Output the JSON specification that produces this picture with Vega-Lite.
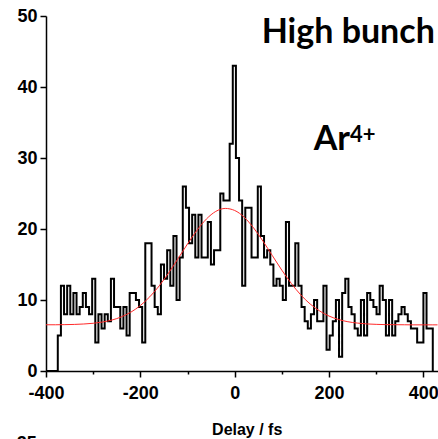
{
  "$schema": "https://vega.github.io/schema/vega-lite/v6.json",
  "width": 391.5,
  "height": 355,
  "autosize": {"type": "none"},
  "padding": {"left": 46, "top": 16, "right": 0.5, "bottom": 68},
  "background": "white",
  "config": {"view": {"stroke": null}},
  "datasets": {
    "hist": [
      {"delay": -400, "count": 0},
      {"delay": -375, "count": 5},
      {"delay": -368.375, "count": 12},
      {"delay": -361.75, "count": 8},
      {"delay": -355.125, "count": 12},
      {"delay": -348.5, "count": 8},
      {"delay": -341.875, "count": 11},
      {"delay": -335.25, "count": 8},
      {"delay": -328.625, "count": 9},
      {"delay": -322, "count": 11},
      {"delay": -315.375, "count": 9},
      {"delay": -308.75, "count": 8},
      {"delay": -302.125, "count": 13},
      {"delay": -295.5, "count": 4},
      {"delay": -288.875, "count": 8},
      {"delay": -282.25, "count": 6},
      {"delay": -275.625, "count": 8},
      {"delay": -269, "count": 7},
      {"delay": -262.375, "count": 13},
      {"delay": -255.75, "count": 9},
      {"delay": -249.125, "count": 9},
      {"delay": -242.5, "count": 6},
      {"delay": -235.875, "count": 9},
      {"delay": -229.25, "count": 5},
      {"delay": -222.625, "count": 11},
      {"delay": -216, "count": 11},
      {"delay": -209.375, "count": 10},
      {"delay": -202.75, "count": 9},
      {"delay": -196.125, "count": 4},
      {"delay": -189.5, "count": 18},
      {"delay": -182.875, "count": 18},
      {"delay": -176.25, "count": 12},
      {"delay": -169.625, "count": 9},
      {"delay": -163, "count": 8},
      {"delay": -156.375, "count": 15},
      {"delay": -149.75, "count": 13},
      {"delay": -143.125, "count": 17},
      {"delay": -136.5, "count": 12},
      {"delay": -129.875, "count": 19},
      {"delay": -123.25, "count": 10},
      {"delay": -116.625, "count": 16},
      {"delay": -110, "count": 26},
      {"delay": -103.375, "count": 23},
      {"delay": -96.75, "count": 18},
      {"delay": -90.125, "count": 22},
      {"delay": -83.5, "count": 16},
      {"delay": -76.875, "count": 22},
      {"delay": -70.25, "count": 16},
      {"delay": -63.625, "count": 16},
      {"delay": -57, "count": 21},
      {"delay": -50.375, "count": 15},
      {"delay": -43.75, "count": 17},
      {"delay": -37.125, "count": 17},
      {"delay": -30.5, "count": 25},
      {"delay": -23.875, "count": 24},
      {"delay": -17.25, "count": 24},
      {"delay": -10.625, "count": 32},
      {"delay": -4, "count": 43},
      {"delay": 2.625, "count": 30},
      {"delay": 9.25, "count": 24},
      {"delay": 15.875, "count": 12},
      {"delay": 22.5, "count": 23},
      {"delay": 29.125, "count": 23},
      {"delay": 35.75, "count": 16},
      {"delay": 42.375, "count": 16},
      {"delay": 49, "count": 26},
      {"delay": 55.625, "count": 19},
      {"delay": 62.25, "count": 16},
      {"delay": 68.875, "count": 17},
      {"delay": 75.5, "count": 15},
      {"delay": 82.125, "count": 12},
      {"delay": 88.75, "count": 13},
      {"delay": 95.375, "count": 12},
      {"delay": 102, "count": 10},
      {"delay": 108.625, "count": 21},
      {"delay": 115.25, "count": 12},
      {"delay": 121.875, "count": 12},
      {"delay": 128.5, "count": 18},
      {"delay": 135.125, "count": 12},
      {"delay": 141.75, "count": 9},
      {"delay": 148.375, "count": 7},
      {"delay": 155, "count": 6},
      {"delay": 161.625, "count": 8},
      {"delay": 168.25, "count": 10},
      {"delay": 174.875, "count": 7},
      {"delay": 181.5, "count": 7},
      {"delay": 188.125, "count": 12},
      {"delay": 194.75, "count": 3},
      {"delay": 201.375, "count": 5},
      {"delay": 208, "count": 7},
      {"delay": 214.625, "count": 10},
      {"delay": 221.25, "count": 2},
      {"delay": 227.875, "count": 11},
      {"delay": 234.5, "count": 13},
      {"delay": 241.125, "count": 9},
      {"delay": 247.75, "count": 8},
      {"delay": 254.375, "count": 6},
      {"delay": 261, "count": 5},
      {"delay": 267.625, "count": 10},
      {"delay": 274.25, "count": 5},
      {"delay": 280.875, "count": 11},
      {"delay": 287.5, "count": 10},
      {"delay": 294.125, "count": 9},
      {"delay": 300.75, "count": 8},
      {"delay": 307.375, "count": 12},
      {"delay": 314, "count": 10},
      {"delay": 320.625, "count": 5},
      {"delay": 327.25, "count": 10},
      {"delay": 333.875, "count": 5},
      {"delay": 340.5, "count": 7},
      {"delay": 347.125, "count": 8},
      {"delay": 353.75, "count": 9},
      {"delay": 360.375, "count": 8},
      {"delay": 367, "count": 7},
      {"delay": 373.625, "count": 6},
      {"delay": 380.25, "count": 6},
      {"delay": 386.875, "count": 4},
      {"delay": 393.5, "count": 4},
      {"delay": 400.125, "count": 11},
      {"delay": 406.75, "count": 6},
      {"delay": 413.375, "count": 6},
      {"delay": 420, "count": 0}
    ],
    "fit": [
      {"delay": -400, "fit": 6.51},
      {"delay": -380, "fit": 6.51},
      {"delay": -360, "fit": 6.53},
      {"delay": -340, "fit": 6.56},
      {"delay": -320, "fit": 6.62},
      {"delay": -300, "fit": 6.72},
      {"delay": -280, "fit": 6.9},
      {"delay": -260, "fit": 7.18},
      {"delay": -240, "fit": 7.63},
      {"delay": -220, "fit": 8.29},
      {"delay": -200, "fit": 9.22},
      {"delay": -180, "fit": 10.45},
      {"delay": -160, "fit": 11.99},
      {"delay": -140, "fit": 13.81},
      {"delay": -120, "fit": 15.83},
      {"delay": -100, "fit": 17.89},
      {"delay": -80, "fit": 19.81},
      {"delay": -60, "fit": 21.4},
      {"delay": -40, "fit": 22.48},
      {"delay": -20, "fit": 22.9},
      {"delay": 0, "fit": 22.61},
      {"delay": 20, "fit": 21.67},
      {"delay": 40, "fit": 20.16},
      {"delay": 60, "fit": 18.29},
      {"delay": 80, "fit": 16.24},
      {"delay": 100, "fit": 14.2},
      {"delay": 120, "fit": 12.34},
      {"delay": 140, "fit": 10.73},
      {"delay": 160, "fit": 9.44},
      {"delay": 180, "fit": 8.46},
      {"delay": 200, "fit": 7.74},
      {"delay": 220, "fit": 7.26},
      {"delay": 240, "fit": 6.94},
      {"delay": 260, "fit": 6.75},
      {"delay": 280, "fit": 6.63},
      {"delay": 300, "fit": 6.57},
      {"delay": 320, "fit": 6.53},
      {"delay": 340, "fit": 6.52},
      {"delay": 360, "fit": 6.51},
      {"delay": 380, "fit": 6.5},
      {"delay": 400, "fit": 6.5},
      {"delay": 420, "fit": 6.5},
      {"delay": 440, "fit": 6.5}
    ]
  },
  "layer": [
    {
      "data": {"name": "hist"},
      "mark": {"type": "line", "interpolate": "step-after", "color": "black", "strokeWidth": 2, "clip": true},
      "encoding": {
        "x": {
          "field": "delay", "type": "quantitative",
          "scale": {"domain": [-400, 430], "nice": false, "zero": false},
          "axis": {
            "values": [-400, -300, -200, -100, 0, 100, 200, 300, 400],
            "labelExpr": "datum.value % 200 === 0 ? '' + datum.value : ''",
            "tickSize": {"condition": {"test": "datum.value % 200 === 0", "value": 6}, "value": 3},
            "labelFont": "Liberation Sans", "labelFontSize": 18, "labelFontWeight": "bold", "labelColor": "black",
            "labelPadding": 7, "labelBaseline": "top", "labelFlush": false, "labelOverlap": false,
            "domainColor": "black", "domainWidth": 1.5, "tickColor": "black", "tickWidth": 1.5, "grid": false,
            "title": "Delay / fs", "titleFont": "Liberation Sans", "titleFontSize": 16, "titleFontWeight": "bold",
            "titleColor": "black", "titleX": 200.7, "titleY": 63, "titleBaseline": "alphabetic", "titleAlign": "center"
          }
        },
        "y": {
          "field": "count", "type": "quantitative",
          "scale": {"domain": [0, 50], "nice": false},
          "axis": {
            "values": [0, 5, 10, 15, 20, 25, 30, 35, 40, 45, 50],
            "labelExpr": "datum.value % 10 === 0 ? '' + datum.value : ''",
            "tickSize": {"condition": {"test": "datum.value % 10 === 0", "value": 6}, "value": 3},
            "labelFont": "Liberation Sans", "labelFontSize": 18, "labelFontWeight": "bold", "labelColor": "black",
            "labelPadding": 3, "labelFlush": false, "labelOverlap": false,
            "domainColor": "black", "domainWidth": 1.5, "tickColor": "black", "tickWidth": 1.5, "grid": false,
            "title": null
          }
        }
      }
    },
    {
      "data": {"name": "fit"},
      "mark": {"type": "line", "color": "#ff2a2a", "strokeWidth": 1, "clip": true, "interpolate": "monotone"},
      "encoding": {
        "x": {"field": "delay", "type": "quantitative"},
        "y": {"field": "fit", "type": "quantitative"}
      }
    },
    {
      "data": {"values": [{}]},
      "mark": {"type": "text", "font": "Lato", "fontWeight": "bold", "fontSize": 34, "align": "left", "baseline": "alphabetic", "color": "black"},
      "encoding": {"x": {"datum": 57.2}, "y": {"datum": 46.15}, "text": {"value": "High bunch"}}
    },
    {
      "data": {"values": [{}]},
      "mark": {"type": "text", "font": "Lato", "fontWeight": "bold", "fontSize": 34, "align": "right", "baseline": "alphabetic", "color": "black"},
      "encoding": {"x": {"datum": 244.4}, "y": {"datum": 31.13}, "text": {"value": "Ar"}}
    },
    {
      "data": {"values": [{}]},
      "mark": {"type": "text", "font": "Lato", "fontWeight": "bold", "fontSize": 22, "align": "left", "baseline": "alphabetic", "color": "black"},
      "encoding": {"x": {"datum": 244.4}, "y": {"datum": 32.3}, "text": {"value": "4+"}}
    },
    {
      "data": {"values": [{}]},
      "mark": {"type": "text", "font": "Liberation Sans", "fontWeight": "bold", "fontSize": 18, "align": "right", "baseline": "top", "color": "black"},
      "encoding": {"x": {"datum": -419.8}, "y": {"datum": -8.97}, "text": {"value": "25"}}
    }
  ]
}
